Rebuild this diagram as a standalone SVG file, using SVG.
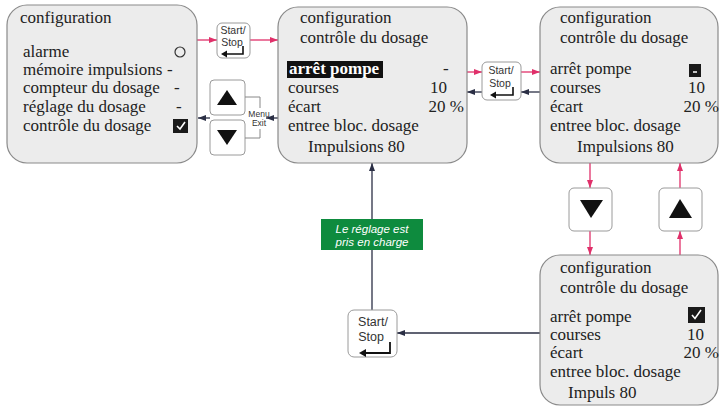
<svg xmlns="http://www.w3.org/2000/svg" width="721" height="412" viewBox="0 0 721 412">
<defs>
<style>
.box{fill:#ececec;stroke:#8a8a8a;stroke-width:1.2}
.btn{fill:#fff;stroke:#9a9a9a;stroke-width:1}
.t{font-family:"Liberation Serif","Times New Roman",serif;font-size:17px;fill:#222}
.b{font-family:"Liberation Sans",Arial,sans-serif;fill:#333;text-anchor:middle}
.red{stroke:#e0306a;stroke-width:1.3;fill:none}
.dark{stroke:#2b2f45;stroke-width:1.3;fill:none}
.br{stroke:#888;stroke-width:1;fill:none}
</style>
<marker id="ar" viewBox="0 0 8 6" refX="8" refY="3" markerWidth="8" markerHeight="6" markerUnits="userSpaceOnUse" orient="auto"><path d="M0,0 L8,3 L0,6 z" fill="#e0306a"/></marker>
<marker id="ad" viewBox="0 0 8 6" refX="8" refY="3" markerWidth="8" markerHeight="6" markerUnits="userSpaceOnUse" orient="auto"><path d="M0,0 L8,3 L0,6 z" fill="#2b2f45"/></marker>
</defs>
<rect width="721" height="412" fill="#fff"/>

<g id="connectors">
<line class="red" x1="197" y1="40" x2="217" y2="40" marker-end="url(#ar)"/>
<line class="red" x1="250" y1="40" x2="278" y2="40" marker-end="url(#ar)"/>
<line class="dark" x1="278" y1="118" x2="266" y2="118" marker-end="url(#ad)"/>
<line class="dark" x1="210" y1="118" x2="198" y2="118" marker-end="url(#ad)"/>
<line class="red" x1="467" y1="72" x2="482" y2="72" marker-end="url(#ar)"/>
<line class="red" x1="521" y1="72" x2="540" y2="72" marker-end="url(#ar)"/>
<line class="dark" x1="540" y1="92" x2="521" y2="92" marker-end="url(#ad)"/>
<line class="dark" x1="482" y1="92" x2="467" y2="92" marker-end="url(#ad)"/>
<line class="red" x1="590" y1="163" x2="590" y2="188" marker-end="url(#ar)"/>
<line class="red" x1="590" y1="231" x2="590" y2="255" marker-end="url(#ar)"/>
<line class="red" x1="680" y1="255" x2="680" y2="231" marker-end="url(#ar)"/>
<line class="red" x1="680" y1="188" x2="680" y2="163" marker-end="url(#ar)"/>
<line class="dark" x1="540" y1="333" x2="397" y2="333" marker-end="url(#ad)"/>
<line class="dark" x1="372" y1="310" x2="372" y2="163" marker-end="url(#ad)"/>
</g>

<g id="box1">
<rect class="box" x="7" y="5" width="190" height="158" rx="20"/>
<text class="t" x="20" y="23">configuration</text>
<text class="t" x="23" y="57">alarme</text>
<text class="t" x="23" y="75">mémoire impulsions</text>
<text class="t" x="23" y="93">compteur du dosage</text>
<text class="t" x="23" y="112">réglage du dosage</text>
<text class="t" x="23" y="131">contrôle du dosage</text>
<circle cx="180" cy="52" r="5" fill="none" stroke="#333" stroke-width="1.2"/>
<text class="t" x="167" y="75">-</text>
<text class="t" x="174" y="93">-</text>
<text class="t" x="176" y="112">-</text>
<rect x="173" y="119" width="15" height="14" fill="#1a1a1a"/>
<path d="M177,126 L180,129 L185,122" stroke="#fff" stroke-width="1.6" fill="none"/>
</g>

<g id="startstop1">
<rect class="btn" x="217" y="23" width="33" height="35" rx="5"/>
<text class="b" x="233" y="34" font-size="10.5">Start/</text>
<text class="b" x="232" y="46" font-size="10.5">Stop</text>
<path d="M243,46 V54 H226" stroke="#111" stroke-width="1.6" fill="none"/>
<path d="M221,54 L227,50.5 L227,57.5 z" fill="#111"/>
</g>

<g id="updown1">
<rect class="btn" x="210" y="80" width="35" height="35" rx="4"/>
<path d="M227,90 L237,105 L217,105 z" fill="#111"/>
<rect class="btn" x="210" y="120" width="35" height="35" rx="4"/>
<path d="M217,130 L237,130 L227,145 z" fill="#111"/>
<path class="br" d="M245,97 H260 V108 M260,129 V138 H245"/>
<text class="b" x="259" y="117" font-size="8.5">Menu</text>
<text class="b" x="259" y="126" font-size="8.5">Exit</text>
</g>

<g id="box2">
<rect class="box" x="278" y="7" width="189" height="156" rx="20"/>
<text class="t" x="300" y="23">configuration</text>
<text class="t" x="300" y="43">contrôle du dosage</text>
<rect x="287" y="61" width="96" height="17" fill="#111"/>
<text class="t" x="289" y="74" font-weight="bold" style="fill:#fff">arrêt pompe</text>
<text class="t" x="288" y="93">courses</text>
<text class="t" x="288" y="112">écart</text>
<text class="t" x="288" y="131">entree bloc. dosage</text>
<text class="t" x="308" y="152">Impulsions  80</text>
<text class="t" x="443" y="74">-</text>
<text class="t" x="447" y="93" text-anchor="end">10</text>
<text class="t" x="464" y="112" text-anchor="end">20 %</text>
</g>

<g id="startstop2">
<rect class="btn" x="482" y="62" width="39" height="38" rx="5"/>
<text class="b" x="501" y="74" font-size="10.5">Start/</text>
<text class="b" x="500" y="87" font-size="10.5">Stop</text>
<path d="M513,87 V95 H495" stroke="#111" stroke-width="1.6" fill="none"/>
<path d="M490,95 L496,91.5 L496,98.5 z" fill="#111"/>
</g>

<g id="box3">
<rect class="box" x="540" y="7" width="178" height="156" rx="20"/>
<text class="t" x="560" y="23">configuration</text>
<text class="t" x="560" y="43">contrôle du dosage</text>
<text class="t" x="550" y="74">arrêt pompe</text>
<text class="t" x="550" y="93">courses</text>
<text class="t" x="550" y="112">écart</text>
<text class="t" x="550" y="131">entree bloc. dosage</text>
<text class="t" x="577" y="152">Impulsions  80</text>
<rect x="689" y="64" width="12" height="13" fill="#1a1a1a"/>
<line x1="693" y1="72" x2="697" y2="72" stroke="#fff" stroke-width="1.5"/>
<text class="t" x="705" y="93" text-anchor="end">10</text>
<text class="t" x="719" y="112" text-anchor="end">20 %</text>
</g>

<g id="down2">
<rect class="btn" x="569" y="188" width="43" height="43" rx="5"/>
<path d="M580,200 L603,200 L591,218 z" fill="#111"/>
</g>

<g id="up2">
<rect class="btn" x="659" y="188" width="43" height="43" rx="5"/>
<path d="M680,199 L692,218 L669,218 z" fill="#111"/>
</g>

<g id="box4">
<rect class="box" x="540" y="255" width="178" height="150" rx="20"/>
<text class="t" x="560" y="273">configuration</text>
<text class="t" x="560" y="293">contrôle du dosage</text>
<text class="t" x="550" y="322">arrêt pompe</text>
<text class="t" x="550" y="340">courses</text>
<text class="t" x="550" y="358">écart</text>
<text class="t" x="550" y="377">entree bloc. dosage</text>
<text class="t" x="568" y="398">Impuls  80</text>
<rect x="688" y="307" width="17" height="16" fill="#1a1a1a"/>
<path d="M692,315 L695,318.5 L701,310" stroke="#fff" stroke-width="1.6" fill="none"/>
<text class="t" x="704" y="340" text-anchor="end">10</text>
<text class="t" x="719" y="358" text-anchor="end">20 %</text>
</g>

<g id="startstop3">
<rect class="btn" x="348" y="310" width="49" height="47" rx="6"/>
<text class="b" x="373" y="326" font-size="12.5">Start/</text>
<text class="b" x="371" y="341" font-size="12.5">Stop</text>
<path d="M390,342 V353 H365" stroke="#111" stroke-width="1.8" fill="none"/>
<path d="M359,353 L366,349 L366,357 z" fill="#111"/>
</g>

<g id="label">
<rect x="321" y="219" width="102" height="31" fill="#0e8b3e"/>
<text class="b" x="372" y="233" font-size="11.5" font-style="italic" style="fill:#fff">Le réglage est</text>
<text class="b" x="372" y="246" font-size="11.5" font-style="italic" style="fill:#fff">pris en charge</text>
</g>
</svg>
